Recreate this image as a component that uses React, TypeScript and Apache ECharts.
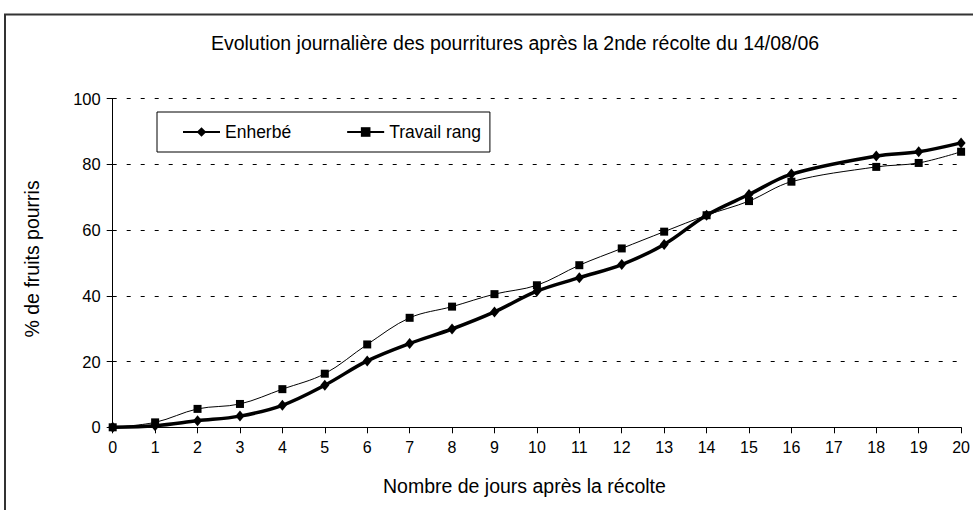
import React, { useEffect, useRef } from "react";
import * as echarts from "echarts";

const titleText = "Evolution journalière des pourritures après la 2nde récolte du 14/08/06";
const xAxisName = "Nombre de jours après la récolte";
const yAxisName = "% de fruits pourris";
const days = [0, 1, 2, 3, 4, 5, 6, 7, 8, 9, 10, 11, 12, 13, 14, 15, 16, 17, 18, 19, 20];
const enherbe = [0, 0.5, 2, 3.4, 6.7, 12.8, 20.2, 25.5, 29.9, 35.1, 41.4, 45.5, 49.5, 55.6, 64.5, 70.8, 77, null, 82.5, 83.8, 86.5];
const travailRang = [0, 1.5, 5.6, 7.1, 11.6, 16.3, 25.2, 33.3, 36.7, 40.5, 43.2, 49.3, 54.4, 59.5, 64.5, 68.8, 74.7, null, 79.2, 80.4, 83.8];
const seriesNames = ["Enherbé", "Travail rang"];

const FONT = "'Liberation Sans', Arial, sans-serif";

export default function App() {
  const ref = useRef<HTMLDivElement>(null);
  useEffect(() => {
    if (!ref.current) return;
    const chart = echarts.init(ref.current, null, { renderer: "svg" });
    const toPairs = (vals: (number | null)[]) => days.map((d, i) => [d, vals[i]]);
    chart.setOption({
      animation: false,
      backgroundColor: "#ffffff",
      textStyle: { fontFamily: FONT, color: "#000" },
      title: {
        text: titleText,
        left: 510,
        textAlign: "center",
        top: 28,
        textStyle: { fontFamily: FONT, fontSize: 19.5, fontWeight: "normal", color: "#000" },
      },
      graphic: [
        {
          type: "rect",
          shape: { x: 5, y: 14.5, width: 1100, height: 700 },
          style: { fill: "none", stroke: "#333", lineWidth: 2 },
          silent: true,
          z: 100,
        },
      ],
      legend: {
        left: 157,
        top: 112,
        orient: "horizontal",
        padding: [11, 9, 11, 25],
        itemGap: 55,
        itemWidth: 37,
        itemHeight: 12,
        borderColor: "#000",
        borderWidth: 1,
        backgroundColor: "#fff",
        textStyle: { fontFamily: FONT, fontSize: 17.5, color: "#000" },
        data: seriesNames,
      },
      grid: { left: 112.7, right: 7.5, top: 98.5, bottom: 82.7, containLabel: false },
      xAxis: {
        type: "value",
        min: 0,
        max: 20,
        interval: 1,
        name: xAxisName,
        nameLocation: "middle",
        nameGap: 49,
        nameTextStyle: { fontFamily: FONT, fontSize: 19.5, color: "#000", padding: [0, 25, 0, 0] },
        axisLine: { lineStyle: { color: "#000", width: 1 } },
        axisTick: { show: true, length: 6, lineStyle: { color: "#000" } },
        axisLabel: { margin: 12, fontFamily: FONT, fontSize: 16, color: "#000" },
        splitLine: { show: false },
      },
      yAxis: {
        type: "value",
        min: 0,
        max: 100,
        interval: 20,
        name: yAxisName,
        nameLocation: "middle",
        nameGap: 71,
        nameTextStyle: { fontFamily: FONT, fontSize: 19.5, color: "#000", padding: [0, 0, 0, 8] },
        axisLine: { show: true, lineStyle: { color: "#000", width: 1 } },
        axisTick: { show: true, length: 6, lineStyle: { color: "#000" } },
        axisLabel: { margin: 12, fontFamily: FONT, fontSize: 16.5, color: "#000" },
        splitLine: { show: true, lineStyle: { color: "#000", width: 1, type: [4, 10] } },
      },
      series: [
        {
          name: seriesNames[0],
          type: "line",
          data: toPairs(enherbe),
          smooth: 0.35,
          connectNulls: true,
          symbol: "diamond",
          symbolSize: [9, 11],
          showAllSymbol: true,
          itemStyle: { color: "#000" },
          lineStyle: { color: "#000", width: 3.5 },
          z: 3,
        },
        {
          name: seriesNames[1],
          type: "line",
          data: toPairs(travailRang),
          smooth: 0.35,
          connectNulls: true,
          symbol: "rect",
          symbolSize: 8,
          showAllSymbol: true,
          itemStyle: { color: "#000" },
          lineStyle: { color: "#000", width: 1 },
          z: 2,
        },
      ],
    });
    return () => chart.dispose();
  }, []);
  return (
    <div
      ref={ref}
      style={{ position: "fixed", left: 0, top: 0, width: 973, height: 510, background: "#fff" }}
    />
  );
}
